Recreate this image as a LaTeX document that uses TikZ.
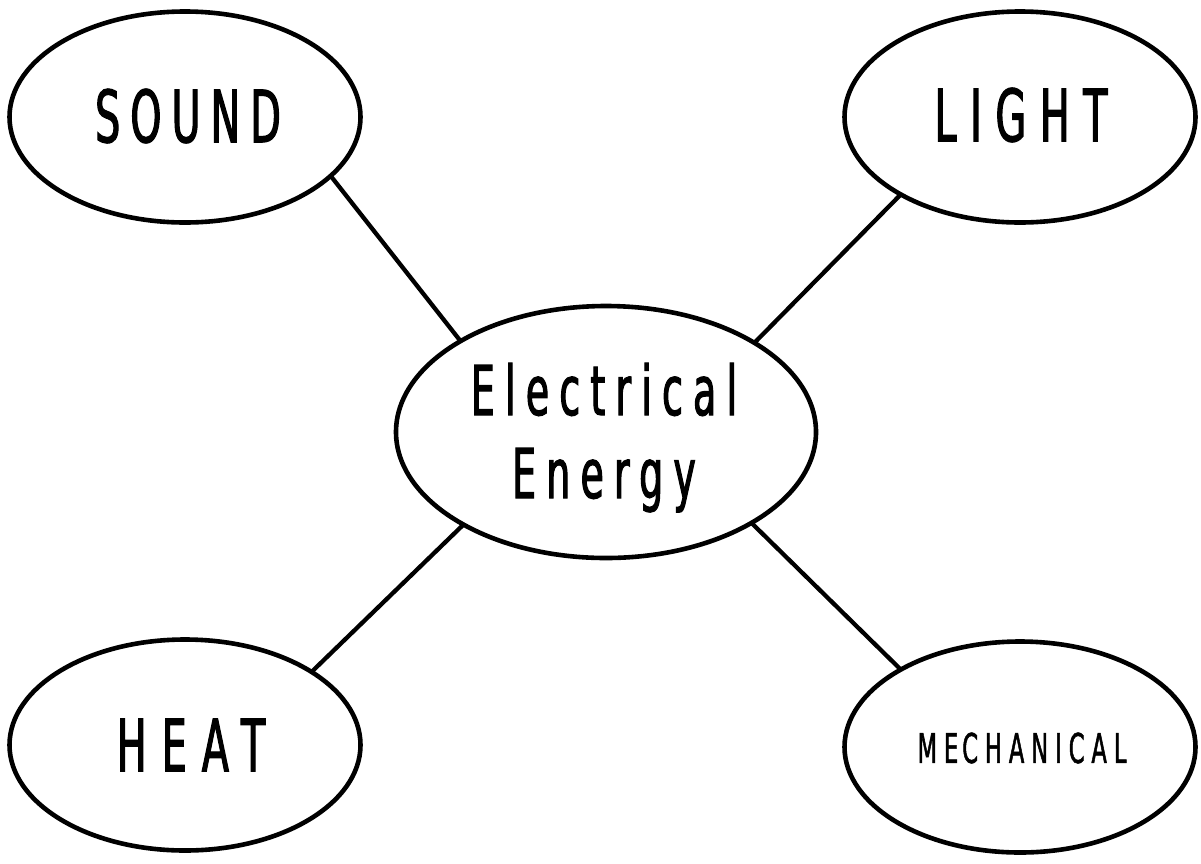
\documentclass[tikz,border=0pt]{standalone}
\usepackage{fontspec}
\setmainfont{DejaVu Sans}
\newfontfamily\hsA[FakeStretch=0.55,FakeBold=1.6,LetterSpace=14]{DejaVu Sans}
\newfontfamily\hsB[FakeStretch=0.55,FakeBold=1.6,LetterSpace=19]{DejaVu Sans}
\newfontfamily\hsC[FakeStretch=0.55,FakeBold=1.6,LetterSpace=21]{DejaVu Sans}
\newfontfamily\hsD[FakeStretch=0.55,FakeBold=1.6,LetterSpace=15]{DejaVu Sans}
\newfontfamily\hsE[FakeStretch=0.55,FakeBold=1.2,LetterSpace=17]{DejaVu Sans}
\usetikzlibrary{shapes.geometric}
\begin{document}
\begin{tikzpicture}[x=1pt,y=-1pt,
  bubble/.style={ellipse,draw=black,line width=4.6pt,inner sep=0pt,outer sep=0pt,
    minimum width=351pt,minimum height=211pt},
  lbl/.style={inner sep=0pt,outer sep=0pt},
  link/.style={line width=4.3pt,draw=black}]
\useasboundingbox (0,0) rectangle (1201,863);
\node[bubble] (sound) at (185,117) {};
\node[bubble] (light) at (1020,117) {};
\node[bubble] (heat) at (185,745) {};
\node[bubble] (mech) at (1020,747) {};
\node[bubble,minimum width=420pt,minimum height=252pt] (center) at (606,432) {};
\node[lbl,font=\hsA\fontsize{72}{80}\selectfont] (soundtext) at (188,116) {SOUND};
\node[lbl,font=\hsB\fontsize{72}{80}\selectfont] (lighttext) at (1021,115) {LIGHT};
\node[lbl,font=\hsC\fontsize{72}{80}\selectfont] (heattext) at (191,745) {HEAT};
\node[lbl,font=\hsE\fontsize{41}{48}\selectfont] (mechtext) at (1022,748) {ME\kern4pt CHANICAL};
\node[lbl,anchor=base,align=center,font=\hsD\fontsize{68.6}{83}\selectfont] (centertext) at (604,498) {Electrical\\Energy};
\draw[link] (sound.-22.6) -- (center.148.3);
\draw[link] (light.-147.4) -- (center.31.4);
\draw[link] (heat.30.6) -- (center.-147.7);
\draw[link] (mech.147.3) -- (center.-32.7);
\end{tikzpicture}
\end{document}
